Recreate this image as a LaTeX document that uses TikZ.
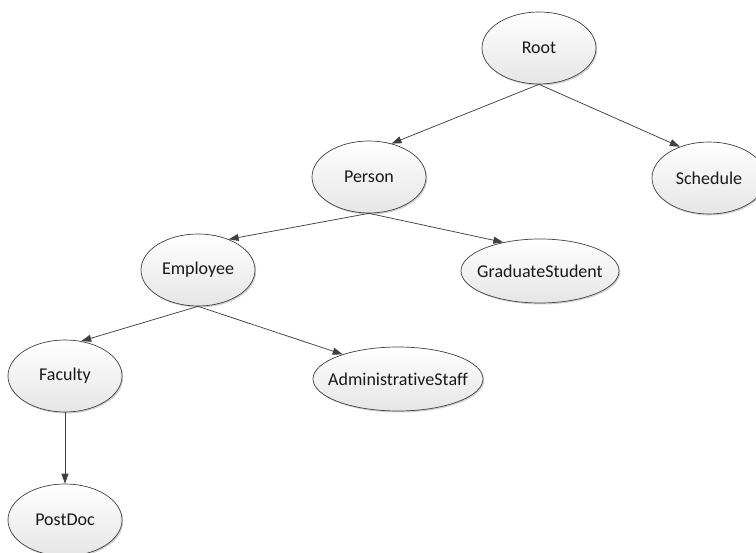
\documentclass[tikz,border=0pt]{standalone}
\usepackage{fontspec}
\setmainfont{Carlito}[Ligatures={NoCommon,NoContextual}]
\usetikzlibrary{shapes.geometric,arrows.meta,shadows}

% zero-width box so the ellipse size comes only from the style
\newcommand\nodetext[1]{\makebox[0pt][c]{#1}}

\tikzset{
  classnode/.style={
    ellipse, draw=black!75, line width=0.7pt,
    top color=white, bottom color=black!10,
    drop shadow={shadow xshift=1.2pt, shadow yshift=-1.5pt, opacity=0.18, fill=black},
    minimum width=114pt, minimum height=72pt, inner sep=0pt,
    font=\fontsize{18}{21}\selectfont, text=black!90
  },
  widenode/.style={classnode, minimum width=#1, minimum height=64pt},
  edge/.style={draw=black!75, line width=0.75pt,
    -{Triangle[length=10pt,width=7pt]}}
}

\begin{document}
\begin{tikzpicture}[x=1pt,y=-1pt]
  \useasboundingbox (0,0) rectangle (756,553);

  \node[classnode] (root)     at (539,48)  {\nodetext{Root}};
  \node[classnode] (person)   at (369,177) {\nodetext{Person}};
  \node[classnode] (schedule) at (709,178) {\nodetext{Schedule}};
  \node[classnode] (employee) at (198,270) {\nodetext{Employee}};
  \node[widenode=158pt] (grad) at (540,271) {\nodetext{GraduateStudent}};
  \node[classnode] (faculty)  at (65,376)  {\nodetext{Faculty}};
  \node[widenode=170pt] (admin) at (398,379) {\nodetext{AdministrativeStaff}};
  \node[classnode] (postdoc)  at (65,520)  {\nodetext{PostDoc}};

  \draw[edge] (root.south)     -- (person.56);
  \draw[edge] (root.south)     -- (schedule.133);
  \draw[edge] (person.south)   -- (employee.45);
  \draw[edge] (person.south)   -- (grad.142);
  \draw[edge] (employee.south) -- (faculty.65);
  \draw[edge] (employee.south) -- (admin.156);
  \draw[edge] (faculty.south)  -- (postdoc.north);
\end{tikzpicture}
\end{document}
